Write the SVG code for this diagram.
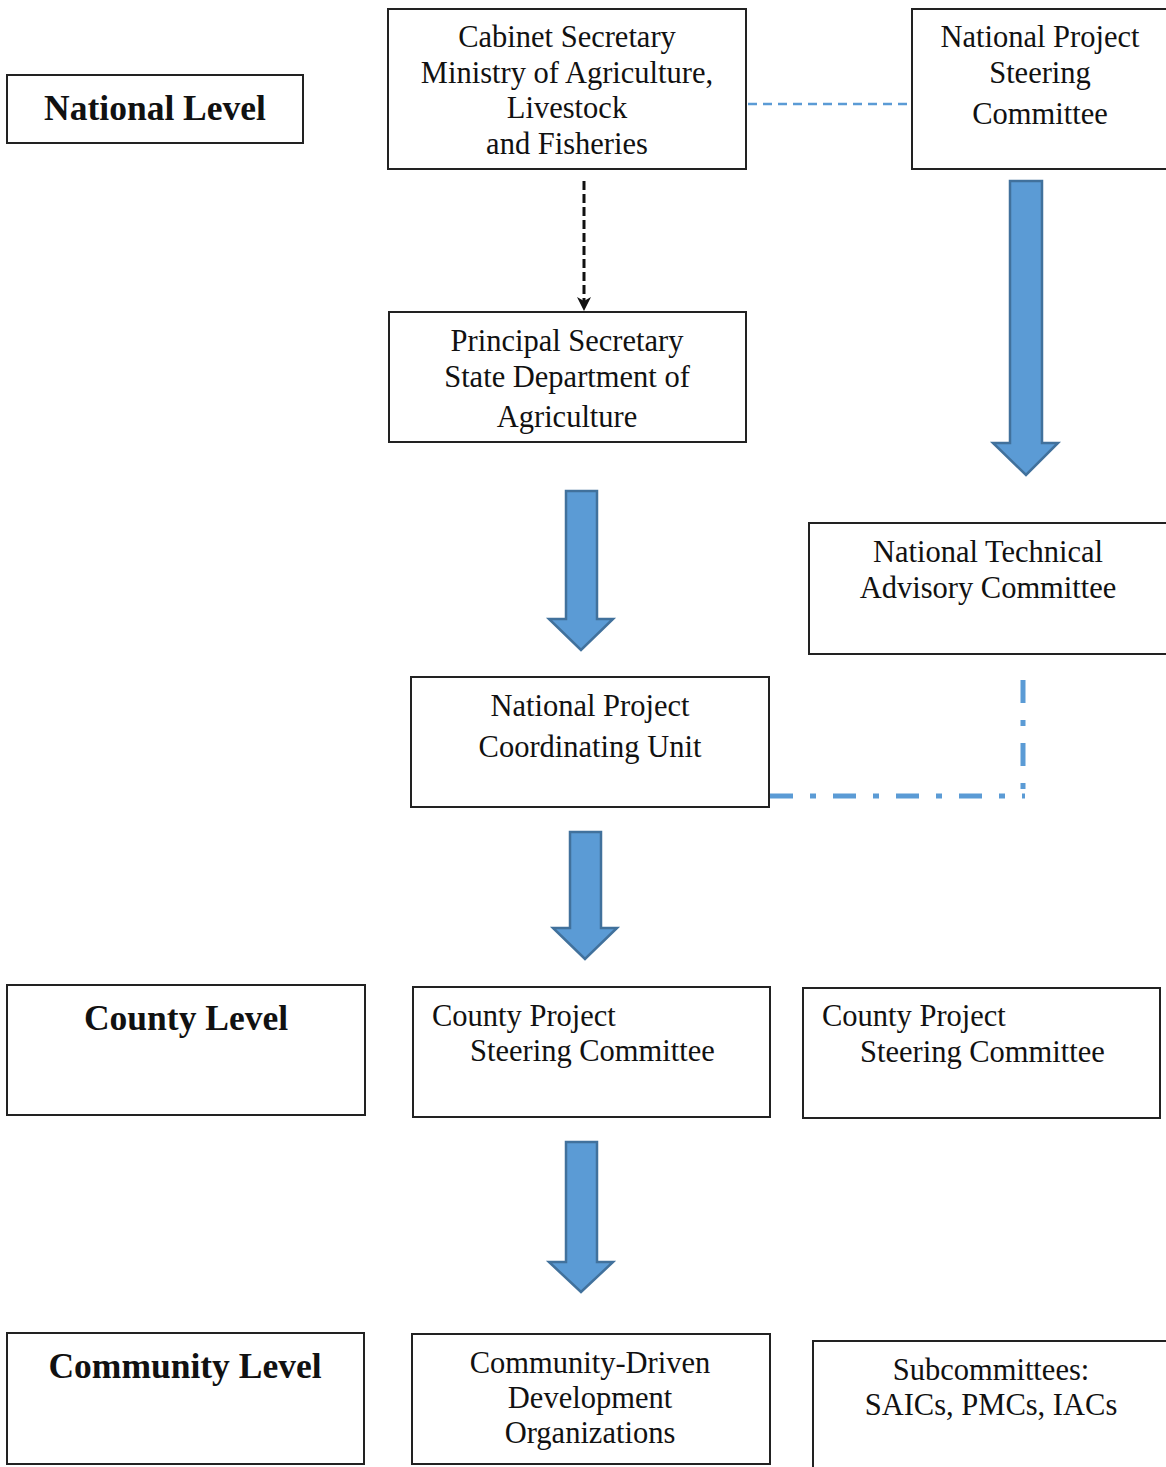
<svg xmlns="http://www.w3.org/2000/svg" width="1166" height="1467" viewBox="0 0 1166 1467">
<defs>
<style>
.box{fill:#fff;stroke:#222;stroke-width:2}
.t{font-family:"Liberation Serif","Times New Roman",serif;font-size:30.5px;fill:#111}
.c{text-anchor:middle}
.b{font-weight:bold;font-size:35.5px}
.arr{fill:#5B9BD5;stroke:#41719C;stroke-width:2.5;stroke-linejoin:miter}
</style>
<marker id="ah" markerWidth="16" markerHeight="16" refX="12" refY="8" orient="auto" markerUnits="userSpaceOnUse" viewBox="0 0 16 16">
<path d="M0,1 L14,8 L0,15 L4,8 Z" fill="#111"/>
</marker>
</defs>
<rect width="1166" height="1467" fill="#fff"/>

<g id="connectors">
<line x1="748" y1="104" x2="910" y2="104" stroke="#5B9BD5" stroke-width="2.5" stroke-dasharray="9,6"/>
<line x1="584" y1="181" x2="584" y2="309" stroke="#111" stroke-width="3" stroke-dasharray="9,4" marker-end="url(#ah)"/>
<path class="arr" d="M566,491 H597 V619 H613 L581,650 L549,619 H566 Z"/>
<path class="arr" d="M1010,181 H1042 V443 H1058 L1026,475 L993,443 H1010 Z"/>
<path class="arr" d="M570,832 H601 V928 H617 L585,959 L553,928 H570 Z"/>
<path class="arr" d="M566,1142 H597 V1262 H613 L581,1292 L549,1262 H566 Z"/>
<line x1="1023" y1="680" x2="1023" y2="796" stroke="#5B9BD5" stroke-width="5" stroke-dasharray="23,17,6,17"/>
<line x1="770" y1="796" x2="1025" y2="796" stroke="#5B9BD5" stroke-width="5" stroke-dasharray="23,17,6,17"/>
</g>

<g id="national-level">
<rect class="box" x="7" y="75" width="296" height="68"/>
<text class="t b c" x="155" y="120">National Level</text>
</g>

<g id="cabinet-secretary">
<rect class="box" x="388" y="9" width="358" height="160"/>
<text class="t c" x="567" y="47">Cabinet Secretary</text>
<text class="t c" x="567" y="83">Ministry of Agriculture,</text>
<text class="t c" x="567" y="118">Livestock</text>
<text class="t c" x="567" y="154">and Fisheries</text>
</g>

<g id="npsc">
<rect class="box" x="912" y="9" width="270" height="160"/>
<text class="t c" x="1040" y="47">National Project</text>
<text class="t c" x="1040" y="83">Steering</text>
<text class="t c" x="1040" y="124">Committee</text>
</g>

<g id="principal-secretary">
<rect class="box" x="389" y="312" width="357" height="130"/>
<text class="t c" x="567" y="351">Principal Secretary</text>
<text class="t c" x="567" y="387">State Department of</text>
<text class="t c" x="567" y="427">Agriculture</text>
</g>

<g id="ntac">
<rect class="box" x="809" y="523" width="370" height="131"/>
<text class="t c" x="988" y="562">National Technical</text>
<text class="t c" x="988" y="598">Advisory Committee</text>
</g>

<g id="npcu">
<rect class="box" x="411" y="677" width="358" height="130"/>
<text class="t c" x="590" y="716">National Project</text>
<text class="t c" x="590" y="757">Coordinating Unit</text>
</g>

<g id="county-level">
<rect class="box" x="7" y="985" width="358" height="130"/>
<text class="t b c" x="186" y="1030">County Level</text>
</g>

<g id="cpsc-1">
<rect class="box" x="413" y="987" width="357" height="130"/>
<text class="t" x="432" y="1026">County Project</text>
<text class="t" x="470" y="1061">Steering Committee</text>
</g>

<g id="cpsc-2">
<rect class="box" x="803" y="988" width="357" height="130"/>
<text class="t" x="822" y="1026">County Project</text>
<text class="t" x="860" y="1062">Steering Committee</text>
</g>

<g id="community-level">
<rect class="box" x="7" y="1333" width="357" height="131"/>
<text class="t b c" x="185" y="1378">Community Level</text>
</g>

<g id="cddo">
<rect class="box" x="412" y="1334" width="358" height="130"/>
<text class="t c" x="590" y="1373">Community-Driven</text>
<text class="t c" x="590" y="1408">Development</text>
<text class="t c" x="590" y="1443">Organizations</text>
</g>

<g id="subcommittees">
<rect class="box" x="813" y="1341" width="370" height="140"/>
<text class="t c" x="991" y="1380">Subcommittees:</text>
<text class="t c" x="991" y="1415">SAICs, PMCs, IACs</text>
</g>
</svg>
